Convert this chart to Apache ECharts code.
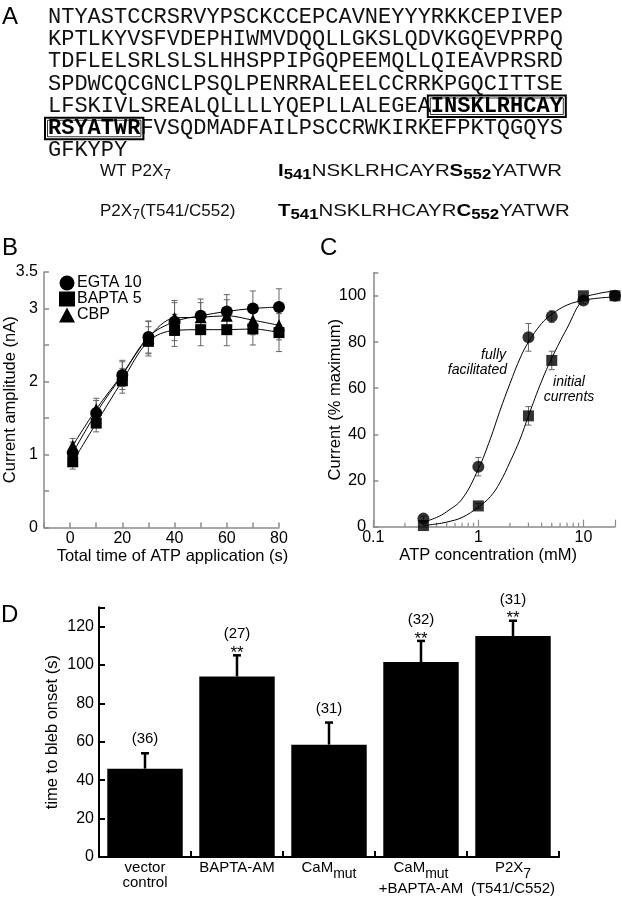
<!DOCTYPE html>
<html><head><meta charset="utf-8">
<script src="https://cdn.jsdelivr.net/npm/echarts@6/dist/echarts.min.js"></script>
<style>html,body{margin:0;padding:0;background:#fff}#c{width:622px;height:899px}</style>
</head><body><div id="c"></div>
<script>
const SANS = 'Liberation Sans, Arial, Helvetica, sans-serif';
const MONO = 'Liberation Mono, Courier New, monospace';

// ---------- Panel A text ----------
const seqLines = [
  'NTYASTCCRSRVYPSCKCCEPCAVNEYYYRKKCEPIVEP',
  'KPTLKYVSFVDEPHIWMVDQQLLGKSLQDVKGQEVPRPQ',
  'TDFLELSRLSLSLHHSPPIPGQPEEMQLLQIEAVPRSRD',
  'SPDWCQCGNCLPSQLPENRRALEELCCRRKPGQCITTSE',
  'LFSKIVLSREALQLLLLYQEPLLALEGEA[INSKLRHCAY]',
  '[RSYATWR]FVSQDMADFAILPSCCRWKIRKEFPKTQGQYS',
  'GFKYPY'
];
const mutLabels = ['WT P2X_7', 'P2X_7(T541/C552)'];
const mutSeqs = [
  ['I', '541', 'NSKLRHCAYR', 'S', '552', 'YATWR'],
  ['T', '541', 'NSKLRHCAYR', 'C', '552', 'YATWR']
];

// ---------- Panel B data ----------
const bTimes = [1, 10, 20, 30, 40, 50, 60, 70, 80];
const bEGTA  = [1.02, 1.57, 2.09, 2.61, 2.82, 2.90, 2.96, 3.00, 3.02];
const bBAPTA = [0.90, 1.43, 2.01, 2.55, 2.70, 2.71, 2.71, 2.72, 2.67];
const bCBP   = [1.12, 1.62, 2.10, 2.60, 2.87, 2.88, 2.90, 2.84, 2.77];
const bEGTAErr  = [0.15, 0.17, 0.20, 0.22, 0.26, 0.23, 0.23, 0.24, 0.25];
const bBAPTAErr = [0.10, 0.12, 0.17, 0.20, 0.22, 0.22, 0.22, 0.22, 0.26];
const bCBPErr   = [0.10, 0.15, 0.17, 0.22, 0.24, 0.20, 0.22, 0.20, 0.20];
const bYLabels = [0, 1, 2, 3, 3.5];

// ---------- Panel C data ----------
const cConc = [0.3, 1, 3, 5, 10, 20];
const cFull = [3.5, 26, 82, 91, 98, 100];
const cFullErr = [1, 4, 6, 2.5, 1.5, 0];
const cInit = [0.5, 9, 48, 72, 100, 100];
const cInitErr = [0, 1, 4, 4, 0, 0];
const cFitX     = [0.3, 0.4, 0.5, 0.7, 1, 1.3, 1.6, 2, 2.5, 3, 4, 5, 7, 10, 14, 20];
const cFitFull  = [2, 4, 6.5, 12, 25, 38, 50, 62, 73, 80, 88, 92, 96, 98, 99, 99.5];
const cFitInit  = [0.5, 1.2, 2, 4, 8.5, 13, 19, 28, 38, 48, 63, 73, 86, 98.5, 101, 102];
const cMinorTicks = [0.2, 0.3, 0.4, 0.5, 0.6, 0.7, 0.8, 0.9, 2, 3, 4, 5, 6, 7, 8, 9];

// ---------- Panel D data ----------
const dCategories = ['vector\ncontrol', 'BAPTA-AM', 'CaM_mut', 'CaM_mut\n+BAPTA-AM', 'P2X_7\n(T541/C552)'];
const dValues = [46, 94, 58.5, 101.5, 115];
const dErrors = [8, 11, 11.5, 11, 8];
const dN = ['(36)', '(27)', '(31)', '(32)', '(31)'];
const dSig = ['', '**', '', '**', '**'];

// ---------- helpers ----------
const GRAY = '#8a8a8a';
function subRich(str) {
  return str.split('\n').map(function (line) {
    if (line.indexOf('_') >= 0) {
      const mm = line.match(/^([^_]*)_(\w+?)(\(.*\))?$/);
      if (mm) return '{n|' + mm[1] + '}{s|' + mm[2] + '}' + (mm[3] ? '{n|' + mm[3] + '}' : '');
    }
    return '{n|' + line + '}';
  }).join('\n');
}

const graphic = [];
const seqFont = 22, charW = seqFont * 0.6, seqX = 48, seqY0 = 17, seqDy = 22.25;
seqLines.forEach(function (line, k) {
  const txt = line.replace(/\[(\w+)\]/g, '\u0001$1\u0002');
  let rich = '';
  txt.split(/(\u0001\w+\u0002)/).forEach(function (part) {
    if (!part) return;
    if (part[0] === '\u0001') rich += '{b|' + part.slice(1, -1) + '}';
    else rich += '{n|' + part + '}';
  });
  graphic.push({
    type: 'text', x: seqX, y: seqY0 + k * seqDy,
    style: {
      text: rich, align: 'left', verticalAlign: 'middle', textAlign: 'left', textVerticalAlign: 'middle',
      rich: {
        n: { fontFamily: MONO, fontSize: seqFont, fill: '#111', color: '#111' },
        b: { fontFamily: MONO, fontSize: seqFont, fontWeight: 'bold', fill: '#000', color: '#000' }
      }
    }
  });
  let pos = 0;
  line.replace(/\[(\w+)\]|(\w)/g, function (m, grp) {
    if (grp) {
      const bx = seqX + pos * charW - 3, by = seqY0 + k * seqDy - 10.5, bw = grp.length * charW + 6, bh = 21.5;
      graphic.push({ type: 'rect', shape: { x: bx, y: by, width: bw, height: bh }, style: { fill: 'none', stroke: '#000', lineWidth: 2 } });
      graphic.push({ type: 'rect', shape: { x: bx + 2.5, y: by + 2.5, width: bw - 5, height: bh - 5 }, style: { fill: 'none', stroke: '#000', lineWidth: 0.8 } });
      pos += grp.length;
    } else pos += 1;
    return m;
  });
});

const mutRich = {
  n: { fontFamily: SANS, fontSize: 17, fill: '#111', lineHeight: 22 },
  s: { fontFamily: SANS, fontSize: 14, fill: '#111', verticalAlign: 'bottom' },
  b: { fontFamily: SANS, fontSize: 17, fontWeight: 'bold', fill: '#000', lineHeight: 22 },
  bs: { fontFamily: SANS, fontSize: 14, fontWeight: 'bold', fill: '#000', verticalAlign: 'bottom' }
};
const mutY = [171, 211];
mutLabels.forEach(function (lab, k) {
  graphic.push({ type: 'text', x: 100, y: mutY[k], style: { text: subRich(lab), align: 'left', verticalAlign: 'middle', textAlign: 'left', textVerticalAlign: 'middle', rich: mutRich } });
  const p = mutSeqs[k];
  const rich = '{b|' + p[0] + '}{bs|' + p[1] + '}{n|' + p[2] + '}{b|' + p[3] + '}{bs|' + p[4] + '}{n|' + p[5] + '}';
  graphic.push({ type: 'text', x: 278, y: mutY[k], scaleX: 1.2, style: { text: rich, align: 'left', verticalAlign: 'middle', textAlign: 'left', textVerticalAlign: 'middle', rich: mutRich } });
});

[['A', 2, 17], ['B', 2, 248], ['C', 320, 248], ['D', 1, 615]].forEach(function (l) {
  graphic.push({ type: 'text', x: l[1], y: l[2], style: { text: l[0], font: '24px ' + SANS, fill: '#000', align: 'left', verticalAlign: 'middle', textAlign: 'left', textVerticalAlign: 'middle' } });
});
[['fully', 506, 355, 'right'], ['facilitated', 507, 370, 'right'], ['initial', 569, 382, 'center'], ['currents', 569, 397, 'center']].forEach(function (l) {
  graphic.push({ type: 'text', x: l[1], y: l[2], style: { text: l[0], font: 'italic 14px ' + SANS, fill: '#000', align: l[3], verticalAlign: 'middle', textAlign: l[3], textVerticalAlign: 'middle' } });
});

function errRenderer(color, lw, cap) {
  return function (params, api) {
    const x = api.value(0), y = api.value(1), e = api.value(2);
    if (!e) return null;
    const p1 = api.coord([x, y - e]), p2 = api.coord([x, y + e]);
    const st = { stroke: color, lineWidth: lw };
    return { type: 'group', children: [
      { type: 'line', shape: { x1: p1[0], y1: p1[1], x2: p2[0], y2: p2[1] }, style: st },
      { type: 'line', shape: { x1: p1[0] - cap, y1: p1[1], x2: p1[0] + cap, y2: p1[1] }, style: st },
      { type: 'line', shape: { x1: p2[0] - cap, y1: p2[1], x2: p2[0] + cap, y2: p2[1] }, style: st }
    ] };
  };
}
const bErrData = [];
[[bEGTA, bEGTAErr], [bBAPTA, bBAPTAErr], [bCBP, bCBPErr]].forEach(function (s) {
  bTimes.forEach(function (t, i) { bErrData.push([t, s[0][i], s[1][i]]); });
});
const cErrData = [];
[[cFull, cFullErr], [cInit, cInitErr]].forEach(function (s) {
  cConc.forEach(function (c, i) { cErrData.push([c, s[0][i], s[1][i]]); });
});

const axisBase = function (color, width) {
  return {
    axisLine: { show: true, onZero: false, lineStyle: { color: color, width: width } },
    axisTick: { show: true, inside: true, length: 5, lineStyle: { color: color, width: width } },
    splitLine: { show: false },
    nameLocation: 'middle',
    nameMoveOverlap: false,
    nameTextStyle: { fontFamily: SANS, fontSize: 16.5, color: '#000' }
  };
};

const option = {
  animation: false,
  backgroundColor: '#fff',
  textStyle: { fontFamily: SANS },
  graphic: graphic,
  legend: {
    orient: 'vertical', left: 54, top: 270, itemWidth: 16, itemHeight: 15, itemGap: 0,
    textStyle: { fontFamily: SANS, fontSize: 16, color: '#000', padding: [0, 0, 0, -3] },
    data: [{ name: 'EGTA 10', icon: 'circle' }, { name: 'BAPTA 5', icon: 'rect' }, { name: 'CBP', icon: 'triangle' }]
  },
  grid: [
    { left: 44, top: 272, width: 235, height: 255.5 },
    { left: 373.3, top: 272.7, width: 241.7, height: 254 },
    { left: 99, top: 607.3, width: 460, height: 249.7 }
  ],
  xAxis: [
    Object.assign(axisBase(GRAY, 1.5), {
      gridIndex: 0, type: 'value', min: -10, max: 80, interval: 10,
      name: 'Total time of ATP application (s)', nameGap: 20,
      nameTextStyle: { fontFamily: SANS, fontSize: 16.5, color: '#000', padding: [0, 0, 0, 22] },
      axisLabel: { margin: 3, fontSize: 16, color: '#000', fontFamily: SANS, formatter: function (v) { return (v >= 0 && v % 20 === 0) ? String(v) : ''; } }
    }),
    Object.assign(axisBase(GRAY, 1.5), {
      gridIndex: 1, type: 'log', logBase: 10, min: 0.1, max: 20,
      name: 'ATP concentration (mM)', nameGap: 20,
      nameTextStyle: { fontFamily: SANS, fontSize: 16.5, color: '#000', padding: [0, 12, 0, 0] },
      axisTick: { show: true, inside: true, length: 7, lineStyle: { color: GRAY, width: 1.2 } },
      axisLabel: { margin: 3, fontSize: 16, color: '#000', fontFamily: SANS, showMaxLabel: true, formatter: function (v) {
        const l = Math.log10(v); return (Math.abs(l - Math.round(l)) < 1e-6 && v < 15) ? String(+v.toFixed(3)) : ''; } }
    }),
    Object.assign(axisBase('#000', 2), {
      gridIndex: 2, type: 'category', data: dCategories,
      axisTick: { show: true, inside: true, length: 6, alignWithLabel: false, lineStyle: { color: '#000', width: 2 } },
      axisLabel: { margin: 3, interval: 0, color: '#000', formatter: function (v) { return subRich(v); },
        rich: {
          n: { fontFamily: SANS, fontSize: 15, color: '#000', lineHeight: 15, verticalAlign: 'top' },
          s: { fontFamily: SANS, fontSize: 14, color: '#000', lineHeight: 21, verticalAlign: 'bottom' }
        } }
    })
  ],
  yAxis: [
    Object.assign(axisBase(GRAY, 1.5), {
      gridIndex: 0, type: 'value', min: 0, max: 3.5, interval: 0.5,
      name: 'Current amplitude (nA)', nameGap: 25,
      axisLabel: { margin: 6, fontSize: 16, color: '#000', fontFamily: SANS, formatter: function (v) { return bYLabels.indexOf(v) >= 0 ? String(v) : ''; } }
    }),
    Object.assign(axisBase(GRAY, 1.5), {
      gridIndex: 1, type: 'value', min: 0, max: 110, interval: 20,
      name: 'Current (% maximum)', nameGap: 29,
      axisLabel: { margin: 7, fontSize: 16.5, color: '#000', fontFamily: SANS, formatter: function (v) { return v <= 100 ? String(v) : ''; } }
    }),
    Object.assign(axisBase('#000', 2), {
      gridIndex: 2, type: 'value', min: 0, max: 130, interval: 20,
      name: 'time to bleb onset (s)', nameGap: 38,
      axisTick: { show: true, inside: true, length: 6, lineStyle: { color: '#000', width: 2 } },
      axisLabel: { margin: 5, fontSize: 16, color: '#000', fontFamily: SANS, formatter: function (v) { return v <= 120 ? String(v) : ''; } }
    })
  ],
  series: [
    { type: 'custom', xAxisIndex: 0, yAxisIndex: 0, z: 1, data: bErrData, renderItem: errRenderer('#666', 1, 3) },
    { name: 'EGTA 10', type: 'line', xAxisIndex: 0, yAxisIndex: 0, z: 4, smooth: 0.35, symbol: 'circle', symbolSize: 12,
      data: bTimes.map(function (t, i) { return [t, bEGTA[i]]; }), lineStyle: { color: '#000', width: 1 }, itemStyle: { color: '#000' } },
    { name: 'BAPTA 5', type: 'line', xAxisIndex: 0, yAxisIndex: 0, z: 3, smooth: 0.35, symbol: 'rect', symbolSize: 11,
      data: bTimes.map(function (t, i) { return [t, bBAPTA[i]]; }), lineStyle: { color: '#000', width: 1 }, itemStyle: { color: '#000' } },
    { name: 'CBP', type: 'line', xAxisIndex: 0, yAxisIndex: 0, z: 3, smooth: 0.35, symbol: 'triangle', symbolSize: 12,
      data: bTimes.map(function (t, i) { return [t, bCBP[i]]; }), lineStyle: { color: '#000', width: 1 }, itemStyle: { color: '#000' } },
    { type: 'custom', xAxisIndex: 1, yAxisIndex: 1, z: 1, data: cMinorTicks.map(function (v) { return [v, 0]; }),
      renderItem: function (params, api) {
        const p = api.coord([api.value(0), 0]);
        return { type: 'line', shape: { x1: p[0], y1: p[1], x2: p[0], y2: p[1] - 4 }, style: { stroke: GRAY, lineWidth: 1.2 } };
      } },
    { type: 'line', xAxisIndex: 1, yAxisIndex: 1, z: 2, smooth: 0.4, symbol: 'none', data: cFitX.map(function (x, i) { return [x, cFitFull[i]]; }), lineStyle: { color: '#000', width: 1 } },
    { type: 'line', xAxisIndex: 1, yAxisIndex: 1, z: 2, smooth: 0.4, symbol: 'none', data: cFitX.map(function (x, i) { return [x, cFitInit[i]]; }), lineStyle: { color: '#000', width: 1 } },
    { type: 'custom', xAxisIndex: 1, yAxisIndex: 1, z: 1, data: cErrData, renderItem: errRenderer('#666', 1, 3) },
    { type: 'scatter', xAxisIndex: 1, yAxisIndex: 1, z: 4, symbol: 'circle', symbolSize: 12, data: cConc.map(function (c, i) { return [c, cFull[i]]; }), itemStyle: { color: '#000' } },
    { type: 'scatter', xAxisIndex: 1, yAxisIndex: 1, z: 3, symbol: 'rect', symbolSize: 11, data: cConc.map(function (c, i) { return [c, cInit[i]]; }), itemStyle: { color: '#000' } },
    { type: 'bar', xAxisIndex: 2, yAxisIndex: 2, barWidth: '82%', data: dValues, itemStyle: { color: '#000' } },
    { type: 'custom', xAxisIndex: 2, yAxisIndex: 2, z: 3, data: dValues.map(function (v, i) { return [i, v + dErrors[i]]; }),
      renderItem: function (params, api) {
        const i = params.dataIndex;
        const base = api.coord([i, dValues[i]]);
        const top = api.coord([i, dValues[i] + dErrors[i]]);
        const x = base[0];
        const st = { stroke: '#000', lineWidth: 2.5 };
        const ch = [
          { type: 'line', shape: { x1: x, y1: base[1], x2: x, y2: top[1] }, style: st },
          { type: 'line', shape: { x1: x - 4, y1: top[1], x2: x + 4, y2: top[1] }, style: st }
        ];
        let y = top[1];
        if (dSig[i]) {
          ch.push({ type: 'text', style: { text: dSig[i], x: x, y: y - 2, align: 'center', verticalAlign: 'middle', font: '17px ' + SANS, fill: '#000' } });
          y -= 21;
        } else y -= 14;
        ch.push({ type: 'text', style: { text: dN[i], x: x, y: y, align: 'center', verticalAlign: 'middle', font: '15px ' + SANS, fill: '#000' } });
        return { type: 'group', children: ch };
      } }
  ]
};
const chart = echarts.init(document.getElementById('c'), null, { renderer: 'canvas' });
chart.setOption(option);
</script></body></html>
